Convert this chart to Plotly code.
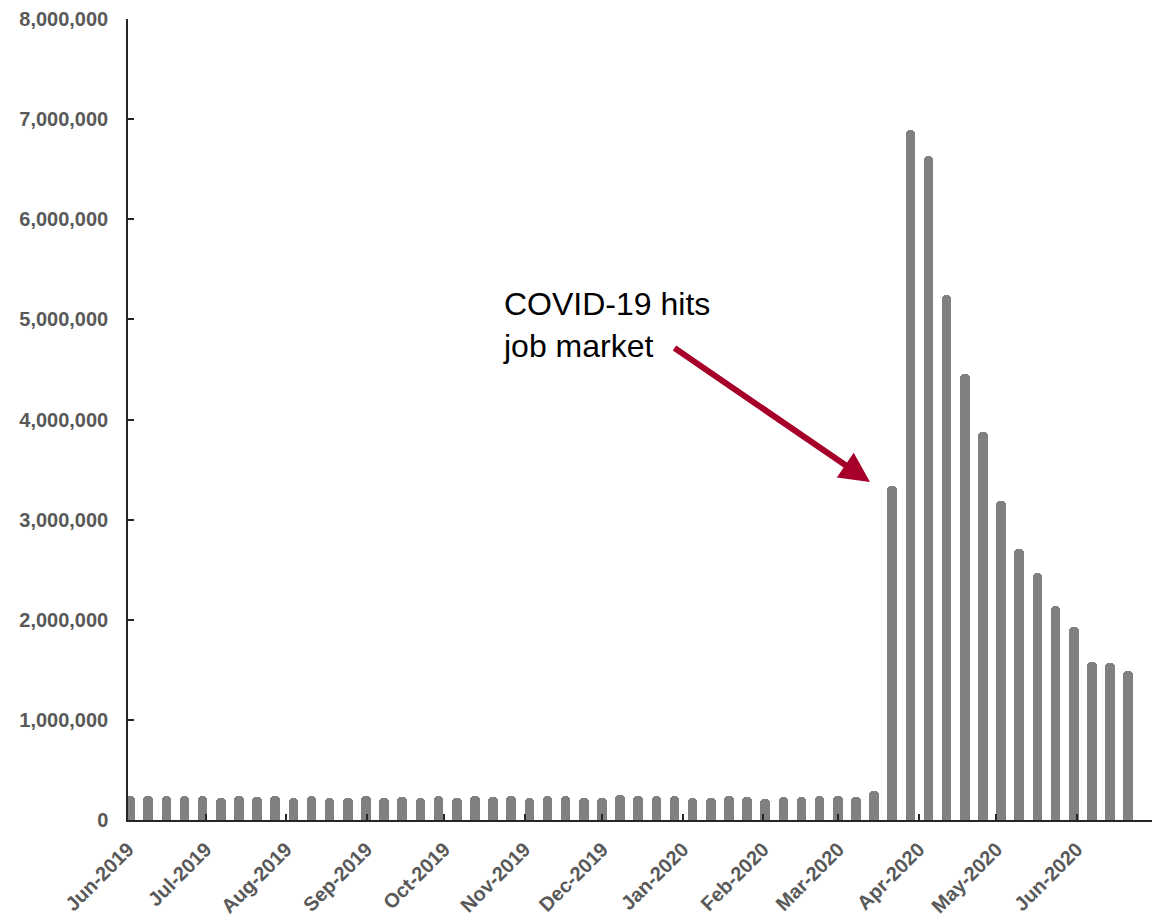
import pandas as pd
import plotly.graph_objects as go

# Weekly initial jobless claims, week ending dates (Jun 1, 2019 – Jun 20, 2020)
week_ending = pd.date_range("2019-06-01", periods=56, freq="7D")

claims = [
    243000, 243000, 243000, 243000, 240000, 220000, 243000, 227000, 243000, 220000,
    240000, 220000, 220000, 243000, 220000, 227000, 220000, 243000, 220000, 237000,
    227000, 237000, 220000, 237000, 237000, 220000, 220000, 250000, 237000, 237000,
    237000, 220000, 220000, 243000, 227000, 210000, 227000, 227000, 243000, 237000,
    227000, 293000,
    3333000, 6892000, 6630000, 5243000, 4452000, 3880000, 3186000, 2708000,
    2468000, 2138000, 1923000, 1583000, 1567000, 1488000,
]

month_ticks = [
    "2019-06-01", "2019-07-01", "2019-08-01", "2019-09-01", "2019-10-01",
    "2019-11-01", "2019-12-01", "2020-01-01", "2020-02-01", "2020-03-01",
    "2020-04-01", "2020-05-01", "2020-06-01",
]
month_labels = [
    "Jun-2019", "Jul-2019", "Aug-2019", "Sep-2019", "Oct-2019", "Nov-2019",
    "Dec-2019", "Jan-2020", "Feb-2020", "Mar-2020", "Apr-2020", "May-2020",
    "Jun-2020",
]

y_ticks = [0, 1000000, 2000000, 3000000, 4000000, 5000000, 6000000, 7000000, 8000000]
y_labels = ["0", "1,000,000", "2,000,000", "3,000,000", "4,000,000",
            "5,000,000", "6,000,000", "7,000,000", "8,000,000"]

annotation_text = "COVID-19 hits<br>job market"

DAY_MS = 86400000
bar_width = 3.7 * DAY_MS
bar_offset = (0.8 - 1.85) * DAY_MS

fig = go.Figure()
fig.add_trace(go.Bar(
    x=week_ending,
    y=claims,
    width=bar_width,
    offset=bar_offset,
    marker=dict(color="#808080", line=dict(width=0), cornerradius=4),
    showlegend=False,
))

fig.update_layout(
    width=1152,
    height=921,
    margin=dict(l=128, r=0, t=19, b=101),
    paper_bgcolor="white",
    plot_bgcolor="white",
    bargap=0,
    xaxis=dict(
        type="date",
        range=["2019-06-01", "2020-06-30"],
        tickvals=month_ticks,
        ticktext=month_labels,
        tickangle=-45,
        ticks="inside",
        ticklen=6,
        tickwidth=1.5,
        tickcolor="#262626",
        showline=True,
        linecolor="#262626",
        linewidth=1.5,
        showgrid=False,
        zeroline=False,
        automargin=False,
        tickfont=dict(family="Arial, Liberation Sans, sans-serif", size=20,
                      color="#595959", weight="bold"),
        ticklabelstandoff=8,
    ),
    yaxis=dict(
        range=[0, 8000000],
        tickvals=y_ticks,
        ticktext=y_labels,
        ticks="inside",
        ticklen=6,
        tickwidth=1.5,
        tickcolor="#262626",
        showline=True,
        linecolor="#262626",
        linewidth=1.5,
        showgrid=False,
        zeroline=False,
        automargin=False,
        tickfont=dict(family="Arial, Liberation Sans, sans-serif", size=20,
                      color="#595959", weight="bold"),
        ticklabelstandoff=14,
    ),
    annotations=[
        dict(
            text=annotation_text,
            xref="paper", yref="paper",
            x=(501 - 128) / 1024, y=(820 - 284) / 801,
            xanchor="left", yanchor="top",
            align="left",
            showarrow=False,
            font=dict(family="Arial, Liberation Sans, sans-serif", size=32, color="black"),
        ),
        dict(
            text="",
            xref="paper", yref="paper",
            x=(870 - 128) / 1024, y=(820 - 482) / 801,
            showarrow=True,
            axref="pixel", ayref="pixel",
            ax=-197, ay=-135,
            arrowhead=2,
            arrowsize=1,
            arrowwidth=6,
            arrowcolor="#A6002A",
            standoff=0,
        ),
    ],
)

fig.write_html("out.html")
